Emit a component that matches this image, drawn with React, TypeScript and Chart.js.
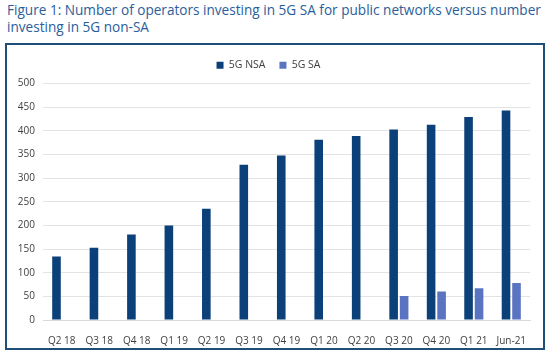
import React, { useEffect, useRef } from "react";
import { Chart, registerables } from "chart.js";

Chart.register(...registerables);

const categories = ["Q2 18", "Q3 18", "Q4 18", "Q1 19", "Q2 19", "Q3 19", "Q4 19", "Q1 20", "Q2 20", "Q3 20", "Q4 20", "Q1 21", "Jun-21"];
const nsaValues = [134, 153, 181, 200, 235, 328, 348, 381, 389, 403, 413, 429, 443];
const saValues = [null, null, null, null, null, null, null, null, null, 51, 60, 67, 78];
const seriesNames = ["5G NSA", "5G SA"];
const titleText = "Figure 1: Number of operators investing in 5G SA for public networks versus number investing in 5G non-SA";

const FONT = "'Open Sans', sans-serif";

export default function App() {
  const ref = useRef<HTMLCanvasElement | null>(null);

  useEffect(() => {
    if (!ref.current) return;
    const chart = new Chart(ref.current, {
      type: "bar",
      data: {
        labels: categories,
        datasets: [
          { label: seriesNames[0], data: nsaValues, backgroundColor: "#0b4178" },
          { label: seriesNames[1], data: saValues as any, backgroundColor: "#5b74c2" },
        ],
      },
      options: {
        animation: false,
        responsive: false,
        maintainAspectRatio: false,
        layout: { padding: { top: 1, right: 13, left: 0, bottom: 0 } },
        datasets: { bar: { categoryPercentage: 0.56, barPercentage: 0.82 } },
        plugins: {
          legend: {
            position: "top",
            align: "center",
            labels: {
              boxWidth: 7,
              boxHeight: 7,
              padding: 14,
              color: "#404040",
              font: { family: FONT, size: 10.5 },
            },
          },
          tooltip: { enabled: false },
        },
        scales: {
          x: {
            grid: { display: false },
            border: { display: true, color: "#d9d9d9" },
            ticks: { color: "#404040", font: { family: FONT, size: 10 }, padding: 7, maxRotation: 0, autoSkip: false },
            afterFit: (s: any) => { s.height = 28; },
          },
          y: {
            min: 0,
            max: 500,
            ticks: { stepSize: 50, color: "#404040", font: { family: FONT, size: 10 }, padding: 8 },
            grid: { color: "#e3e3e3", drawTicks: false },
            border: { display: false },
            afterFit: (s: any) => {
              s.width = 36;
            },
          },
        },
      },
      plugins: [
        {
          id: "legendGap",
          beforeInit(c: any) {
            const origFit = c.legend.fit;
            c.legend.fit = function () {
              origFit.call(this);
              this.height += 3;
            };
          },
        },
      ],
    });
    return () => chart.destroy();
  }, []);

  return (
    <div style={{ position: "fixed", left: 0, top: 0, width: 550, height: 364, background: "#fff" }}>
      <div
        style={{
          position: "absolute",
          left: 7,
          top: 1,
          width: 536,
          fontFamily: FONT,
          fontSize: 13.6,
          lineHeight: "17px",
          color: "#2a5e9c",
          fontWeight: 500,
        }}
      >
        {titleText}
      </div>
      <div
        style={{
          position: "absolute",
          left: 5,
          top: 43,
          width: 536,
          height: 303,
          border: "2px solid #1f4e79",
        }}
      >
        <canvas ref={ref} width={536} height={303} style={{ display: "block" }} />
      </div>
    </div>
  );
}
